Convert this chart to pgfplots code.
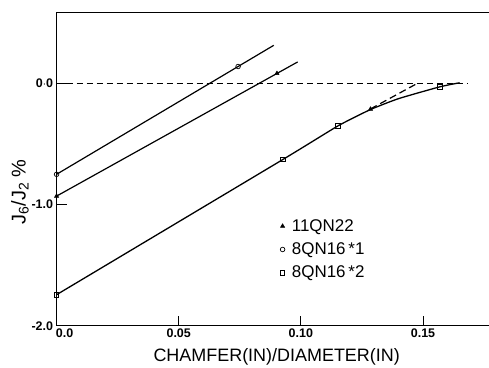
\documentclass[border=0pt]{standalone}
\usepackage{fontspec}
\setmainfont{Liberation Sans}
\usepackage{pgfplots}
\pgfplotsset{compat=1.18}
\begin{document}
\begin{tikzpicture}
\begin{axis}[name=ax, scale only axis, width=432bp, height=313.4bp,
  xmin=0, xmax=0.177, ymin=-2, ymax=0.59, clip=false,
  axis x line=box, axis y line=left, axis line style={-, line width=0.8bp},
  xtick={0,0.05,0.10,0.15}, xticklabels={\hspace*{16bp}0.0,0.05,0.10,0.15},
  ytick={0,-1,-2}, yticklabels={0$\cdot$0,-1.0,-2.0},
  xtick pos=left, ytick pos=left,
  tick align=inside, major tick length=10bp, tick style={line width=0.8bp, black},
  tick label style={font=\fontsize{12.5}{14}\selectfont\bfseries},
  xlabel={CHAMFER(IN)/DIAMETER(IN)},
  xlabel style={at={(axis description cs:0.509,-0.0988)}, anchor=center, font=\fontsize{18}{20}\selectfont},
  ylabel={J\textsubscript{6}/J\textsubscript{2} \%},
  ylabel style={at={(axis description cs:-0.0845,0.426)}, anchor=center, font=\fontsize{20}{22}\selectfont},
  legend style={draw=none, fill=none, at={(axis description cs:0.51,0.352)}, anchor=north west, font=\fontsize{17}{19}\selectfont, row sep=6bp, column sep=5bp},
  legend cell align=left,
]
% zero reference line
\addplot[black, dash pattern=on 6bp off 4bp, line width=0.9bp, forget plot] coordinates {(0,0)(0.168,0)};
% lines
\addplot[black, line width=1.2bp, forget plot] coordinates {(0,-0.93)(0.0987,0.178)};
\addplot[black, line width=1.2bp, forget plot] coordinates {(0,-0.75)(0.0889,0.315)};
\addplot[black, line width=1.3bp, smooth, tension=0.3, forget plot] coordinates {(0,-1.744)(0.0926,-0.628)(0.1152,-0.35)(0.1285,-0.215)(0.14,-0.125)(0.1568,-0.028)(0.165,0.006)};
\addplot[black, line width=1.2bp, dash pattern=on 7bp off 4bp, forget plot] coordinates {(0.1285,-0.21)(0.1476,0.0)};
% marks
\addplot[only marks, black, mark=triangle*, mark size=2.5bp] coordinates {(0,-0.93)(0.0902,0.083)(0.1285,-0.212)};
\addlegendentry{11QN22}
\addplot[only marks, black, mark=o, mark size=2.3bp, mark options={line width=0.7bp, fill=white}] coordinates {(0,-0.75)(0.0743,0.14)};
\addlegendentry{8QN16\,*1}
\addplot[only marks, black, mark=square, mark size=2.2bp, mark options={line width=0.7bp, fill=white}] coordinates {(0,-1.744)(0.0926,-0.628)(0.1152,-0.35)(0.1568,-0.028)};
\addlegendentry{8QN16\,*2}
\end{axis}
\pgfresetboundingbox
\path (ax.south west) ++(-56.5bp,-41.3bp) rectangle ([yshift=12bp]ax.north east);
\end{tikzpicture}
\end{document}
